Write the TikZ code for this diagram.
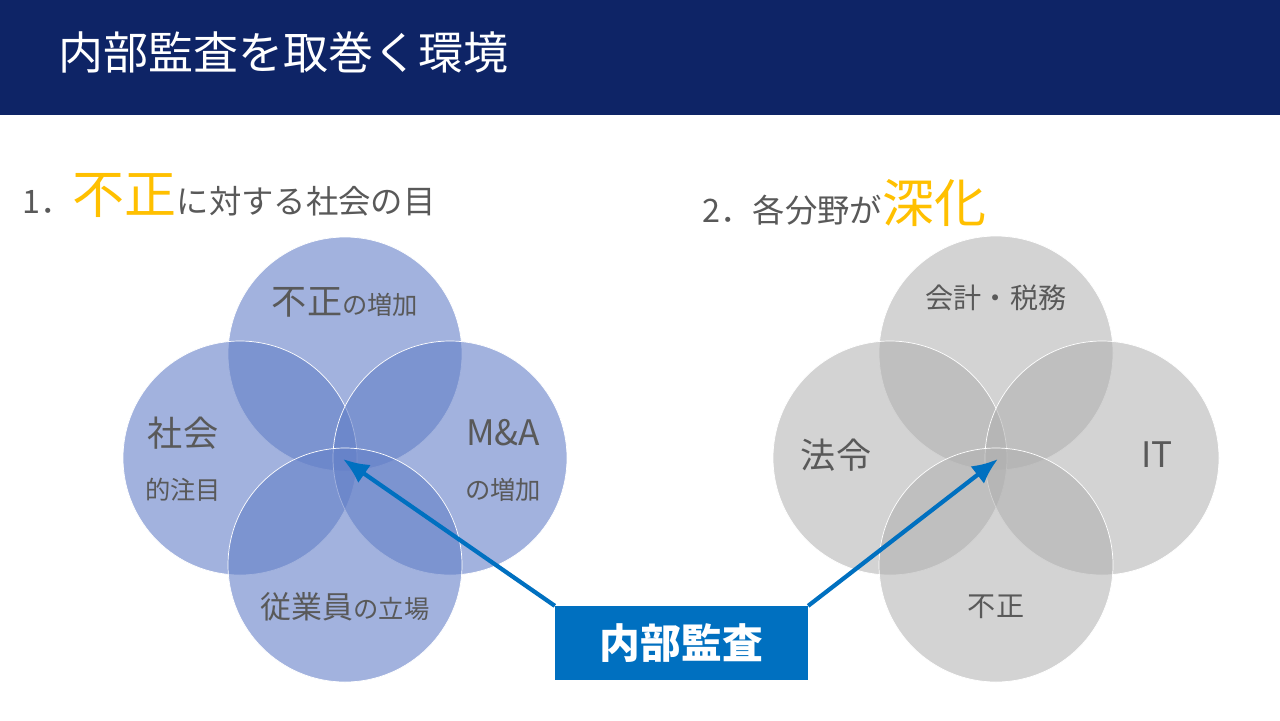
\documentclass[tikz,border=0pt]{standalone}
\usepackage{fontspec}
\setmainfont{Noto Sans CJK JP}
\definecolor{navy}{RGB}{14,36,102}
\definecolor{txtgray}{RGB}{89,89,89}
\definecolor{accent}{RGB}{255,192,0}
\definecolor{boxblue}{RGB}{0,112,192}
\definecolor{circblue}{RGB}{100,128,200}
\definecolor{circgray}{RGB}{175,175,175}
\tikzset{
  bluecirc/.style={circle,minimum size=11.7cm,fill=circblue,fill opacity=0.6,draw=white,line width=1pt},
  graycirc/.style={circle,minimum size=11.7cm,fill=circgray,fill opacity=0.55,draw=white,line width=1pt},
  lbl/.style={text=txtgray,font=\fontsize{50}{54}\selectfont},
  small/.style={text=txtgray,font=\fontsize{36}{40}\selectfont},
  pointer/.style={draw=boxblue,line width=6pt,-{Latex[length=1.3cm,width=1.1cm]}}
}
\usetikzlibrary{arrows.meta}
\begin{document}
\begin{tikzpicture}[x=0.05cm,y=-0.05cm]
  \useasboundingbox (0,0) rectangle (1280,720);
  \fill[white] (0,0) rectangle (1280,720);
  \fill[navy] (0,0) rectangle (1280,115);
  \node[anchor=west,text=white,font=\fontsize{64}{68}\selectfont] (title) at (56,52) {内部監査を取巻く環境};
  % left group
  \node[anchor=west,text=txtgray,font=\fontsize{46}{50}\selectfont] (head1) at (20,195)
    {1．{\color{accent}\fontsize{74}{78}\selectfont 不正}に対する社会の目};
  \node[bluecirc] (ctop) at (345,354) {};
  \node[bluecirc] (cleft) at (240,458) {};
  \node[bluecirc] (cright) at (450,458) {};
  \node[bluecirc] (cbot) at (345,565) {};
  \node[lbl] (t1) at (345,302) {不正{\fontsize{36}{40}\selectfont の増加}};
  \node[lbl] (t2) at (183,433) {社会};
  \node[small] (t2b) at (183,490) {的注目};
  \node[lbl] (t3) at (503,433) {M\&A};
  \node[small] (t3b) at (503,490) {の増加};
  \node[lbl,font=\fontsize{44}{48}\selectfont] (t4) at (345,607) {従業員{\fontsize{36}{40}\selectfont の立場}};
  % right group
  \node[anchor=west,text=txtgray,font=\fontsize{46}{50}\selectfont] (head2) at (700,203)
    {2．各分野が{\color{accent}\fontsize{74}{78}\selectfont 深化}};
  \node[graycirc] (gtop) at (996,353) {};
  \node[graycirc] (gleft) at (890,458) {};
  \node[graycirc] (gright) at (1102,458) {};
  \node[graycirc] (gbot) at (996,565) {};
  \node[small,font=\fontsize{40}{44}\selectfont] (u1) at (996,298) {会計・税務};
  \node[lbl] (u2) at (836,455) {法令};
  \node[lbl] (u3) at (1157,455) {IT};
  \node[small,font=\fontsize{40}{44}\selectfont] (u4) at (996,607) {不正};
  % central box
  \node[fill=boxblue,text=white,font=\bfseries\fontsize{58}{62}\selectfont,minimum width=12.65cm,minimum height=3.7cm] (audit) at (681.5,643) {内部監査};
  \coordinate (aimL) at (343,459);
  \coordinate (aimR) at (998,459);
  \draw[pointer] (audit.north west) -- (aimL);
  \draw[pointer] (audit.north east) -- (aimR);
\end{tikzpicture}
\end{document}
